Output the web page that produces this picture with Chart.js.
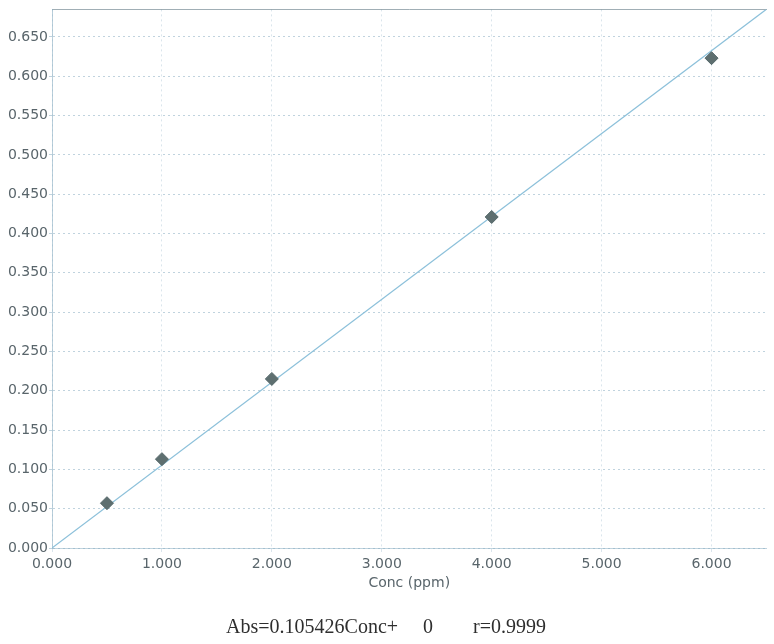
<!DOCTYPE html>
<html>
<head>
<meta charset="utf-8">
<script src="https://cdn.jsdelivr.net/npm/chart.js@4/dist/chart.umd.min.js"></script>
<style>
  html, body { margin: 0; padding: 0; background: #ffffff; }
  #wrap { width: 774px; height: 644px; }
</style>
</head>
<body>
<div id="wrap"><canvas id="c" width="774" height="644"></canvas></div>
<script>
// Calibration standards: concentration (ppm) and measured absorbance
const concPpm = [0.5, 1.0, 2.0, 4.0, 6.0];
const absorbance = [0.057, 0.113, 0.215, 0.421, 0.623];

// Fitted calibration line Abs = slope * Conc + intercept
const slope = 0.105426;
const intercept = 0;
const rValue = '0.9999';
const fitConc = [0, 6.5];
const fitAbs = fitConc.map(c => slope * c + intercept);

// Axis ranges
const xRange = [0, 6.5];
const yRange = [0, 0.685];

const equationText = 'Abs=' + slope + 'Conc+     ' + intercept + '        r=' + rValue;

const tickFont = { family: '"DejaVu Sans", Verdana, sans-serif', size: 14 };
const tickColor = '#59656b';
const gridColor = 'rgba(140,175,195,0.55)';

new Chart(document.getElementById('c'), {
  type: 'scatter',
  data: {
    datasets: [
      {
        label: 'fit',
        type: 'line',
        data: fitConc.map((c, i) => ({ x: c, y: fitAbs[i] })),
        borderColor: '#8cc0da',
        borderWidth: 1.2,
        pointRadius: 0,
        fill: false,
        order: 2
      },
      {
        label: 'standards',
        data: concPpm.map((c, i) => ({ x: c, y: absorbance[i] })),
        pointStyle: 'rectRot',
        pointRadius: 6.5,
        backgroundColor: '#5e6f70',
        borderColor: '#55686a',
        borderWidth: 1,
        order: 1
      }
    ]
  },
  options: {
    responsive: false,
    animation: false,
    layout: { padding: { top: 5, right: 2, left: 0, bottom: 0 } },
    plugins: {
      legend: { display: false },
      tooltip: { enabled: false },
      title: {
        display: true,
        position: 'bottom',
        text: equationText,
        color: '#2e2e2e',
        font: { family: '"Liberation Serif", "Times New Roman", serif', size: 20, weight: 'normal' },
        padding: { top: 24, bottom: 4.5 }
      }
    },
    scales: {
      x: {
        type: 'linear',
        min: xRange[0],
        max: xRange[1],
        afterFit: s => { s.height = 43.5; },
        ticks: {
          stepSize: 1,
          includeBounds: false,
          padding: 4,
          color: tickColor,
          font: tickFont,
          maxRotation: 0,
          callback: v => Number(v).toFixed(3)
        },
        grid: {
          color: 'rgba(150,180,200,0.35)',
          borderDash: [2, 3],
          drawTicks: true,
          tickLength: 4
        },
        border: { display: true, color: gridColor, dash: [2, 3] },
        title: {
          display: true,
          text: 'Conc (ppm)',
          color: tickColor,
          font: { family: '"DejaVu Sans", Verdana, sans-serif', size: 14 },
          padding: { top: 0, bottom: 0 }
        }
      },
      xTop: {
        type: 'linear',
        position: 'top',
        min: xRange[0],
        max: xRange[1],
        afterFit: s => { s.height = 0; },
        ticks: { display: false },
        grid: { display: false, drawTicks: false },
        border: { display: true, color: 'rgba(120,140,150,0.7)', dash: [3, 2] }
      },
      y: {
        type: 'linear',
        min: yRange[0],
        max: yRange[1],
        afterFit: s => { s.width = 52; },
        ticks: {
          stepSize: 0.05,
          includeBounds: false,
          padding: 1,
          color: tickColor,
          font: tickFont,
          callback: v => Number(v).toFixed(3)
        },
        grid: {
          color: gridColor,
          borderDash: [2, 3],
          drawTicks: true,
          tickLength: 3
        },
        border: { display: true, color: 'rgba(140,175,195,0.6)', dash: [2, 3] }
      }
    }
  }
});
</script>
</body>
</html>
